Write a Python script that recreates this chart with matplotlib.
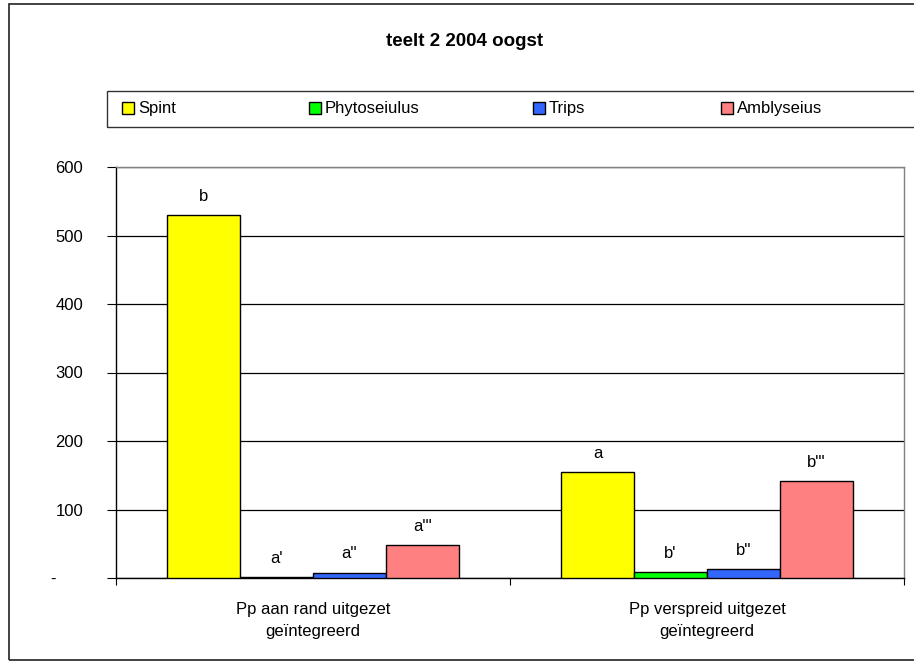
import matplotlib
matplotlib.use("Agg")
import matplotlib.pyplot as plt
import matplotlib.transforms as mtransforms
from matplotlib.patches import Rectangle
import numpy as np

plt.rcParams['font.family'] = ['Liberation Sans', 'DejaVu Sans']

title = "teelt 2 2004 oogst"
categories = ["Pp aan rand uitgezet\ngeïntegreerd", "Pp verspreid uitgezet\ngeïntegreerd"]
series = ["Spint", "Phytoseiulus", "Trips", "Amblyseius"]
colors = ["#FFFF00", "#00FF00", "#3366FF", "#FF8080"]
values = {
    "Spint": [530, 155],
    "Phytoseiulus": [1, 9],
    "Trips": [8, 13],
    "Amblyseius": [48, 142],
}
letters = {
    "Spint": ["b", "a"],
    "Phytoseiulus": ["a'", "b'"],
    "Trips": ["a''", "b''"],
    "Amblyseius": ["a'''", "b'''"],
}
yticks = [0, 100, 200, 300, 400, 500, 600]
yticklabels = ["-", "100", "200", "300", "400", "500", "600"]

W, H = 914, 667
fig = plt.figure(figsize=(W / 100, H / 100), dpi=100)

# outer chart frame
fig.add_artist(Rectangle((8.5 / W, 1 - 660 / H), 1.2, (660 - 3.5) / H,
                         transform=fig.transFigure, fill=False,
                         edgecolor="#222222", lw=1.2))

ax = fig.add_axes([116 / W, 1 - 578 / H, (904 - 116) / W, (578 - 167) / H])

x = np.arange(len(categories))
width = 0.185
for i, (name, col) in enumerate(zip(series, colors)):
    pos = x + (i - 1.5) * width
    bars = ax.bar(pos, values[name], width, color=col, edgecolor="black",
                  linewidth=1.0, zorder=3)
    for b, lab in zip(bars, letters[name]):
        ax.annotate(lab, (b.get_x() + b.get_width() / 2, b.get_height()),
                    xytext=(0, 8), textcoords="offset points",
                    ha="center", va="bottom", fontsize=12)

ax.set_xlim(-0.5, len(categories) - 0.5)
ax.set_ylim(0, 600)
ax.set_yticks(yticks)
ax.set_yticklabels(yticklabels)
ax.yaxis.grid(True, color="black", linewidth=0.9, zorder=0)
ax.set_axisbelow(True)

ax.set_xticks(np.arange(len(categories) + 1) - 0.5)
ax.set_xticklabels([])
ax.set_xticks(x, minor=True)
ax.set_xticklabels(categories, minor=True, fontsize=12, linespacing=1.6)
ax.tick_params(axis="x", which="minor", length=0, pad=17)
ax.tick_params(axis="x", which="major", length=5, direction="out", color="black")
ax.tick_params(axis="y", length=6.5, direction="out", pad=17, labelsize=12)

for s in ["left", "bottom"]:
    ax.spines[s].set_color("black")
    ax.spines[s].set_linewidth(1.0)
for s in ["top", "right"]:
    ax.spines[s].set_color("#808080")
    ax.spines[s].set_linewidth(1.0)

# shift the zero label ('-') to the left like the accounting format
for lbl in ax.get_yticklabels():
    if lbl.get_text() == "-":
        lbl.set_transform(lbl.get_transform() +
                          mtransforms.ScaledTranslation(-28 / 100, 0, fig.dpi_scale_trans))

fig.text(465 / W, 1 - 42 / H, title, ha="center", va="center",
         fontsize=13.5, fontweight="bold")

# legend box
fig.add_artist(Rectangle((107 / W, 1 - 127 / H), 1.0, 36 / H,
                         transform=fig.transFigure, fill=False,
                         edgecolor="#333333", lw=1.0))
legend_x = [122, 309, 533, 721]
for name, col, lx in zip(series, colors, legend_x):
    fig.add_artist(Rectangle((lx / W, 1 - 114 / H), 12 / W, 12 / H,
                             transform=fig.transFigure, facecolor=col,
                             edgecolor="black", lw=1.0))
    fig.text((lx + 16) / W, 1 - 108 / H, name, ha="left", va="center", fontsize=12)

fig.savefig("out.png", dpi=100)
